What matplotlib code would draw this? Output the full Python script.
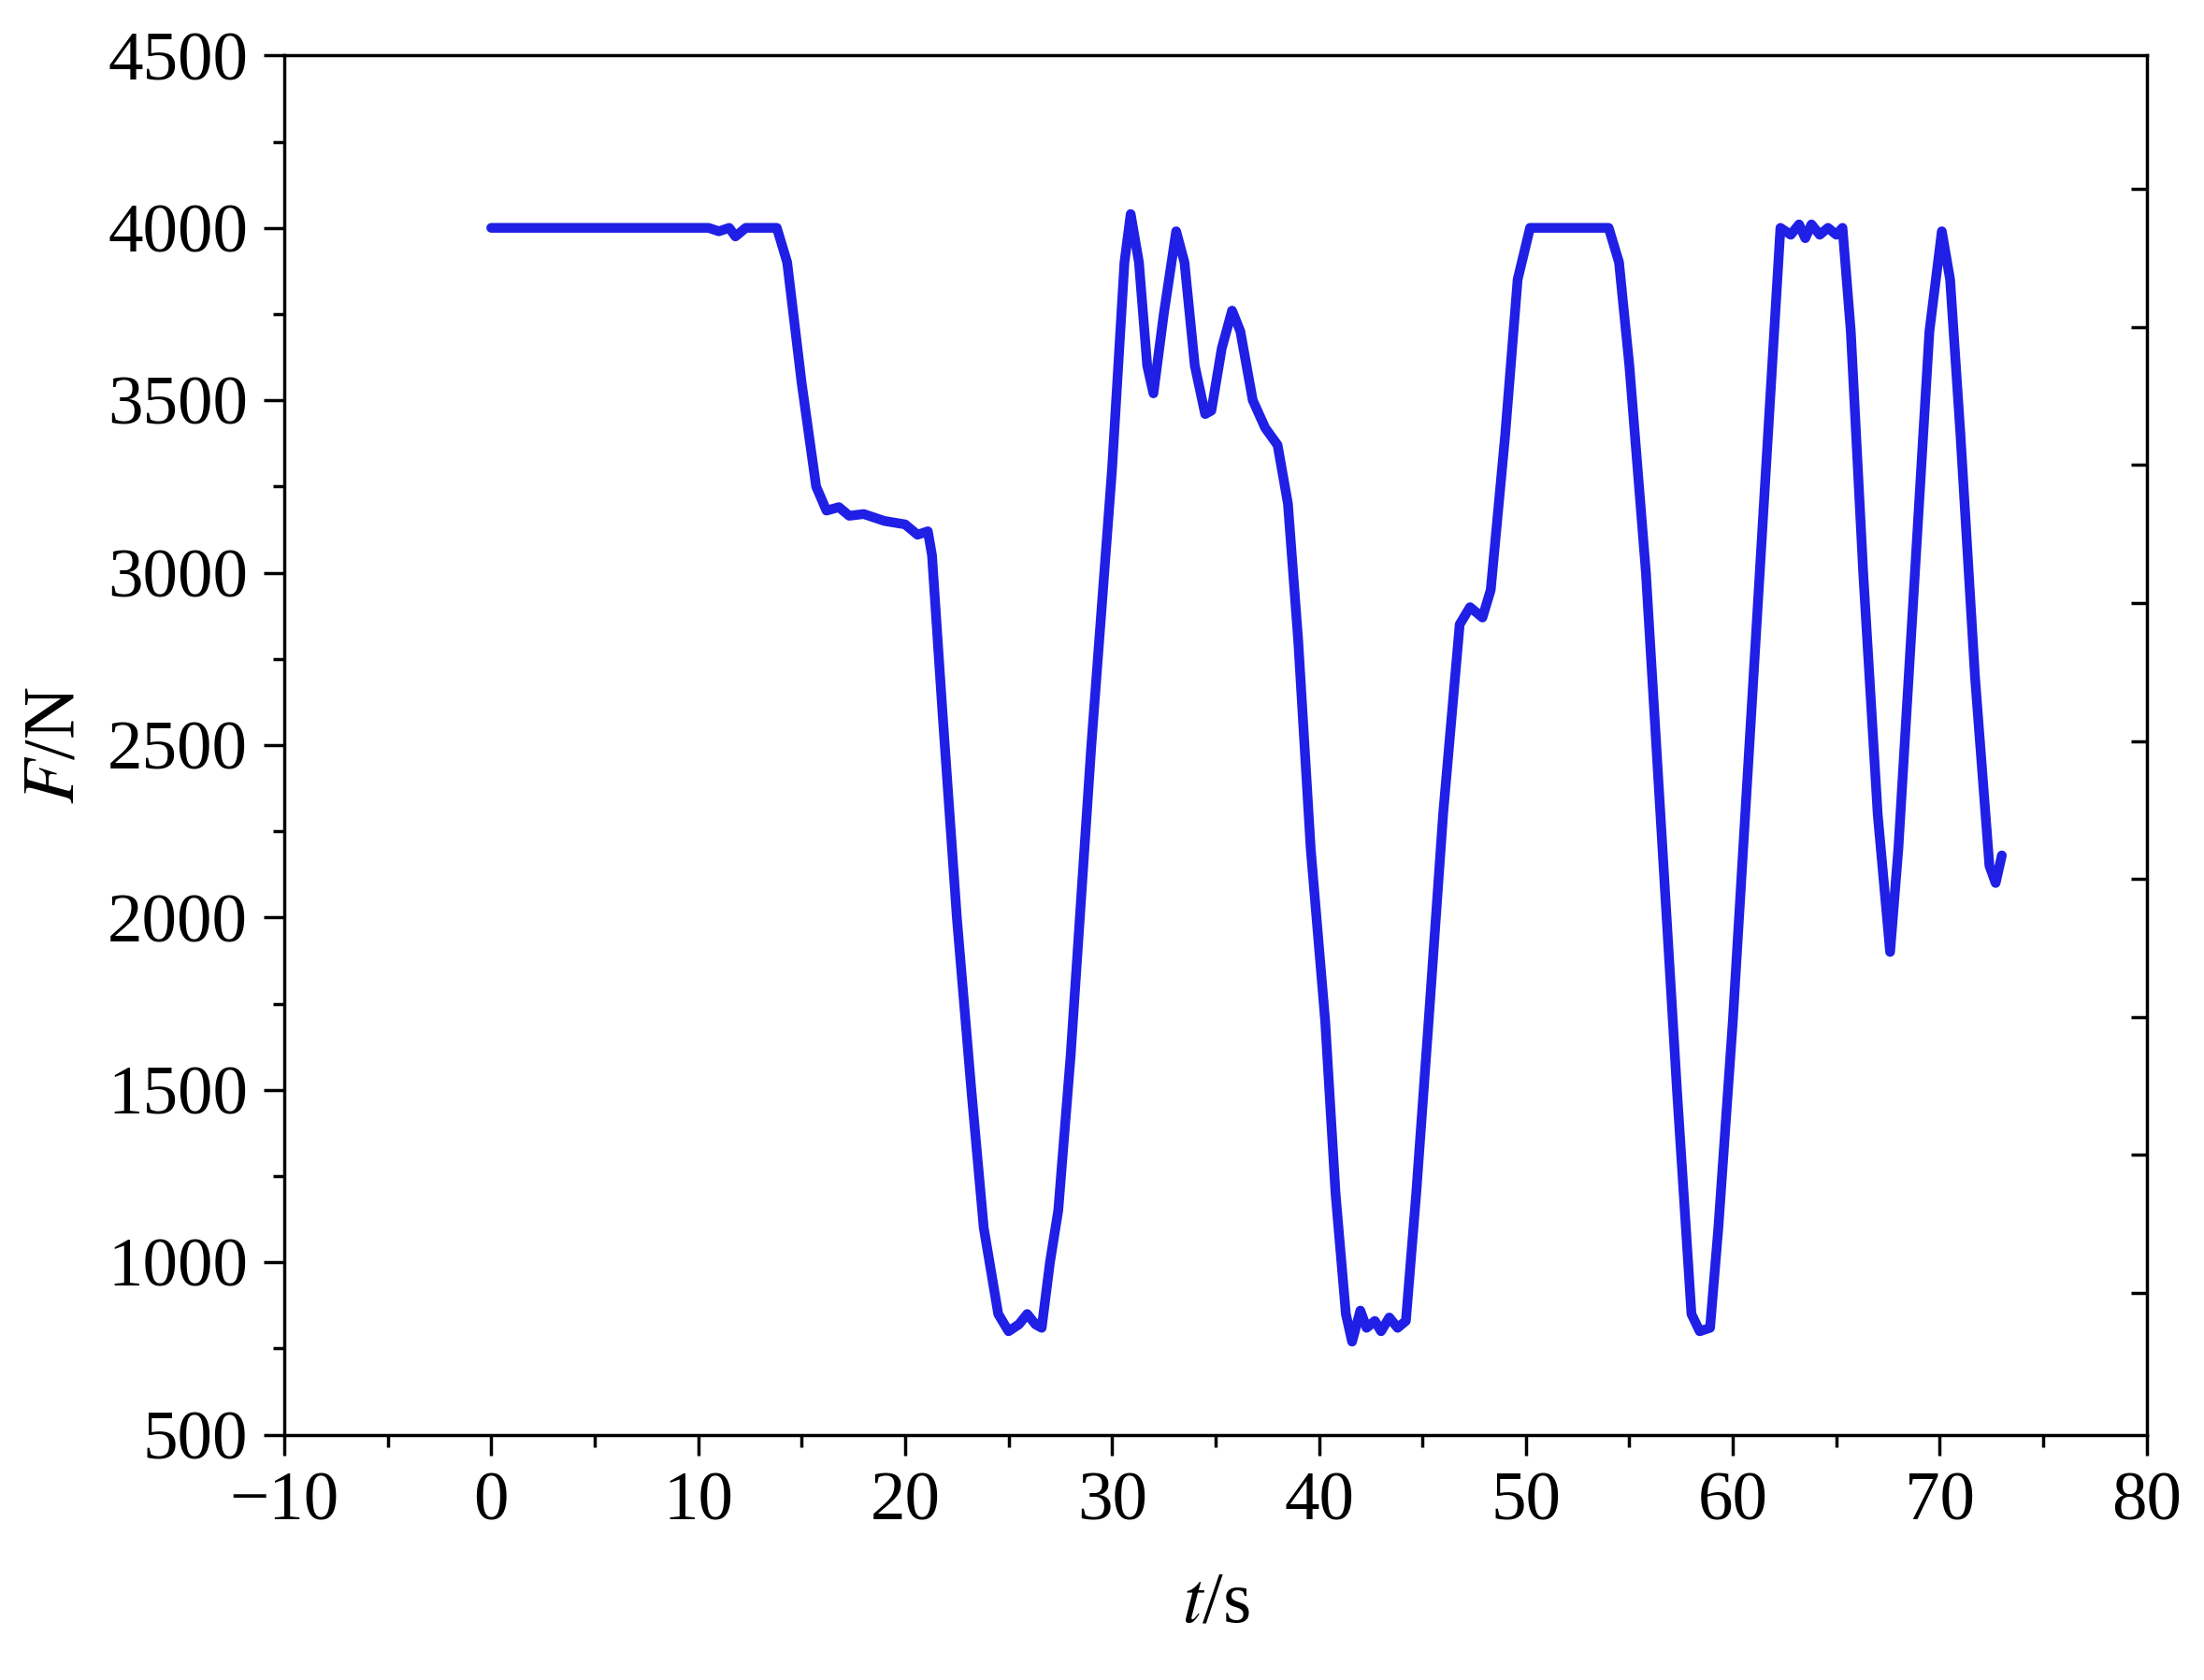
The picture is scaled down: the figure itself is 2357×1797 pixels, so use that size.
import matplotlib
matplotlib.use('Agg')
import matplotlib.pyplot as plt
from matplotlib.ticker import MultipleLocator

plt.rcParams['font.family'] = ['Liberation Serif', 'DejaVu Serif']
plt.rcParams['mathtext.fontset'] = 'stix'

t = [0, 10.5, 11, 11.5, 11.8, 12.3, 13.8, 14.3, 15, 15.7, 16.2, 16.8, 17.3, 18, 19, 20, 20.6, 21.1, 21.3, 21.8,
     22.5, 23.2, 23.8, 24.5, 25, 25.5, 25.9, 26.3, 26.6, 27.0, 27.4, 28, 29, 30, 30.6, 30.9, 31.3, 31.7, 32, 32.5,
     33.1, 33.5, 34, 34.5, 34.8, 35.3, 35.8, 36.2, 36.8, 37.4, 38, 38.5, 39, 39.6, 40.3, 40.8, 41.3, 41.6, 42, 42.3,
     42.7, 43, 43.4, 43.8, 44.2, 44.7, 45.3, 46, 46.8, 47.3, 47.9, 48.3, 49, 49.6, 50.2, 51, 53, 54, 54.5, 55,
     55.8, 56.5, 57.3, 58, 58.4, 58.9, 59.3, 60, 61, 61.8, 62.3, 62.8, 63.2, 63.5, 63.8, 64.2, 64.6, 65, 65.3, 65.7,
     66.3, 67, 67.6, 68, 68.8, 69.5, 70.1, 70.5, 71, 71.7, 72.4, 72.7, 73]
F = [4000, 4000, 3990, 4000, 3975, 4000, 4000, 3900, 3550, 3250, 3180, 3190, 3165, 3170, 3150, 3140, 3110, 3120, 3050, 2600,
     2000, 1500, 1100, 850, 800, 820, 850, 820, 810, 1000, 1150, 1600, 2500, 3300, 3900, 4040, 3900, 3600, 3520, 3750,
     3990, 3900, 3600, 3460, 3470, 3650, 3760, 3700, 3500, 3420, 3370, 3200, 2800, 2200, 1700, 1200, 850, 770, 860, 810,
     830, 800, 840, 810, 830, 1200, 1700, 2300, 2850, 2900, 2870, 2950, 3400, 3850, 4000, 4000, 4000, 4000, 3900, 3600,
     3000, 2300, 1500, 850, 800, 810, 1100, 1700, 2700, 3500, 4000, 3980, 4010, 3970, 4010, 3980, 4000, 3980, 4000, 3700,
     3000, 2300, 1900, 2200, 3000, 3700, 3990, 3850, 3400, 2700, 2150, 2100, 2180]

fig = plt.figure(figsize=(23.57, 17.97), dpi=100)
ax = fig.add_axes([0.129, 0.146, 0.845, 0.821])
ax.plot(t, F, color='#1f1fe6', lw=7.5, solid_joinstyle='round', solid_capstyle='round')
ax.set_xlim(-10, 80)
ax.set_ylim(500, 4500)
ax.xaxis.set_major_locator(MultipleLocator(10))
ax.xaxis.set_minor_locator(MultipleLocator(5))
ax.yaxis.set_major_locator(MultipleLocator(500))
ax.yaxis.set_minor_locator(MultipleLocator(250))
ax.tick_params(which='both', direction='out', width=2.5, labelsize=54, top=False, right=False)
ax.tick_params(which='major', length=16, pad=12)
ax.tick_params(which='minor', length=9)
for s in ax.spines.values():
    s.set_linewidth(2.5)
ax.set_xticklabels(['\u221210' if v < 0 else str(int(v)) for v in ax.get_xticks()])
ax.set_xlabel('$t$/s', fontsize=56, labelpad=28)
ax.set_ylabel('$F$/N', fontsize=56, labelpad=14)

ax2 = ax.twinx()
ax2.set_ylim(500, 4500)
ax2.set_yticks([4112 - 400 * i for i in range(9)])
ax2.set_yticklabels([])
ax2.tick_params(direction='in', length=12, width=2.5)

fig.savefig('out.png', dpi=100)
